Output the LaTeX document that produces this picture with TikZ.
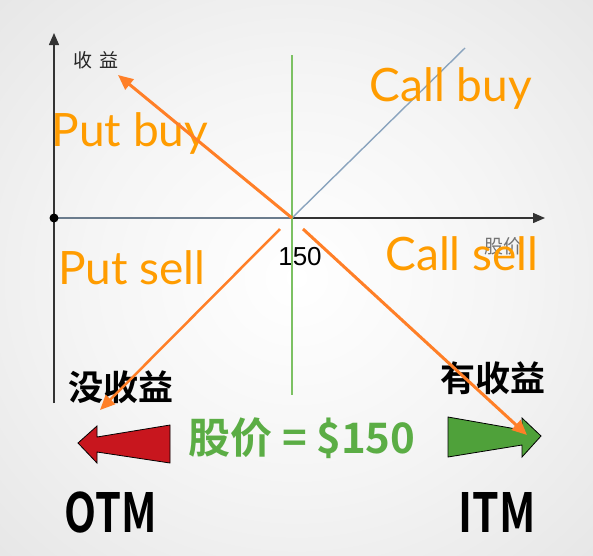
\documentclass[tikz,border=0pt]{standalone}
\usepackage{fontspec}
\usepackage{graphicx}
\setmainfont{Liberation Sans}
\newfontfamily\cjk{Noto Sans CJK SC}
\newfontfamily\cjkb{Noto Sans CJK SC Bold}
\newfontfamily\lato{Lato}
\usetikzlibrary{arrows.meta}
\definecolor{orarrow}{HTML}{FF7F27}
\definecolor{ortext}{HTML}{FF9C00}
\definecolor{pricegreen}{HTML}{5BAD45}
\definecolor{vgreen}{HTML}{7CC163}
\definecolor{payblue}{HTML}{8AA4BE}
\definecolor{redarrow}{HTML}{C8161E}
\definecolor{greenarrow}{HTML}{4FA13A}
\pgfdeclareradialshading{bgshade}{\pgfpoint{0bp}{0bp}}{color(0bp)=(white); color(18bp)=(black!4); color(50bp)=(black!14); color(72bp)=(black!28)}
\tikzset{
  optlabel/.style={font=\lato\fontsize{46}{46}\selectfont, text=ortext, inner sep=0pt},
  orarr/.style={draw=orarrow, line width=3pt, -{Triangle[length=15pt,width=13pt]}},
  zhbig/.style={font=\cjkb\fontsize{35}{35}\selectfont, text=black, inner sep=0pt},
  moneybig/.style={font=\cjkb\fontsize{54}{54}\selectfont, text=black, inner sep=0pt},
}
\begin{document}
\begin{tikzpicture}[x=1pt,y=-1pt]
\useasboundingbox (0,0) rectangle (593,555);
\shade[shading=bgshade] (0,0) rectangle (593,555);
% coordinates
\coordinate (O) at (292,218);
\coordinate (xs) at (54,218);
\coordinate (xe) at (545,218);
\coordinate (ys) at (54,403);
\coordinate (ye) at (54,33);
\coordinate (cb) at (465,48);
\coordinate (gt) at (292,55);
\coordinate (gb) at (292,395);
% axes
\draw[black!80, line width=1.4pt, -{Triangle[length=12pt,width=10pt]}] (ys) -- (ye);
\draw[black!80, line width=1.4pt, -{Triangle[length=12pt,width=10pt]}] (xs) -- (xe);
\draw[payblue, line width=1.4pt] (xs) -- (O) -- (cb);
\fill[black] (xs) circle (4.5pt);
% axis labels
\node[font=\cjk\fontsize{19}{19}\selectfont, text=black!85, inner sep=0pt] (lprofit) at (96,60) {收\hspace{7pt}益};
\node[font=\cjk\fontsize{19}{19}\selectfont, text=black!55, inner sep=0pt] (lprice) at (503,246) {股价};
\node[font=\fontsize{26}{26}\selectfont, inner sep=0pt] (l150) at (300,257) {150};
% strike line
\draw[vgreen, line width=2pt] (gt) -- (gb);
% option labels
\node[optlabel] (putbuy) at (130,133) {Put buy};
\node[optlabel] (putsell) at (132,268) {Put sell};
\node[optlabel] (callbuy) at (451,88) {Call buy};
\node[optlabel] (callsell) at (462,254) {Call sell};
% bottom texts
\node[zhbig] (noprofit) at (121,387) {没收益};
\node[zhbig] (hasprofit) at (493,378) {有收益};
\node[font=\cjkb\fontsize{42}{42}\selectfont, text=pricegreen, inner sep=0pt] (price) at (302,438) {股价 = \$150};
\node[moneybig] (otm) at (111,513) {\scalebox{0.77}[1]{OTM}};
\node[moneybig] (itm) at (497,512) {\scalebox{0.79}[1]{ITM}};
% big arrows
\filldraw[fill=redarrow, draw=black, line width=0.8pt]
  (78,443) -- (97,426) -- (97,437) -- (170,425) -- (170,463) -- (97,452) -- (97,463) -- cycle;
\filldraw[fill=greenarrow, draw=black, line width=0.8pt]
  (448,417) -- (522,430) -- (522,418) -- (541,436) -- (522,457) -- (522,445) -- (448,457) -- cycle;
% orange arrows
\coordinate (a1e) at (118,75);
\coordinate (a2s) at (280,229);
\coordinate (a2e) at (100,410);
\coordinate (a3s) at (303,229);
\coordinate (a3e) at (527,435);
\draw[orarr] (O) -- (a1e);
\draw[orarr, line width=2.5pt] (a2s) -- (a2e);
\draw[orarr] (a3s) -- (a3e);
\end{tikzpicture}
\end{document}
